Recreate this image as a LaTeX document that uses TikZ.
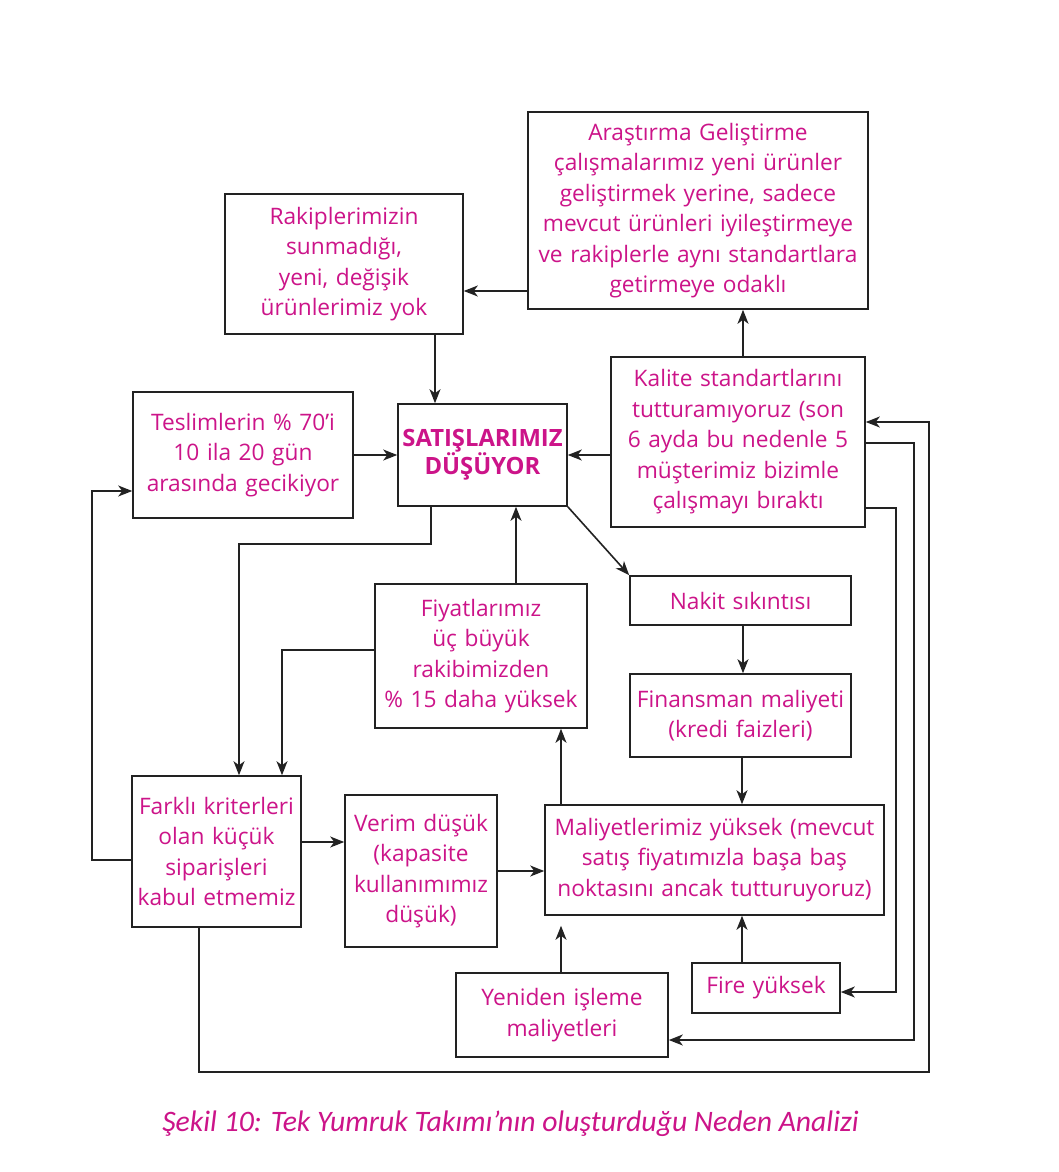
\documentclass[tikz,border=0pt]{standalone}
\usepackage{fontspec}
\setmainfont{Open Sans}
\newfontfamily\capfont{Carlito}
\usetikzlibrary{arrows.meta,calc}
\definecolor{pinktxt}{HTML}{CC1489}
\definecolor{linec}{HTML}{222222}
\begin{document}
\begin{tikzpicture}[x=1pt,y=-1pt,
  box/.style={draw=linec, line width=1.6pt, inner sep=0pt, align=center,
    text=pinktxt, font=\fontsize{22.7}{30.5}\selectfont},
  arr/.style={draw=linec, line width=1.6pt, -{Stealth[length=14pt,width=11pt,inset=4pt]}},
  ln/.style={draw=linec, line width=1.6pt}]
\useasboundingbox (0,0) rectangle (1059,1172);
\fill[white] (0,0) rectangle (1059,1172);

\node[box, minimum width=340pt, minimum height=197pt, text width=340pt] (ar) at (698,210.5)
  {Araştırma Geliştirme\\çalışmalarımız yeni ürünler\\geliştirmek yerine, sadece\\mevcut ürünleri iyileştirmeye\\ve rakiplerle aynı standartlara\\getirmeye odaklı};
\node[box, minimum width=238pt, minimum height=140pt, text width=238pt] (rk) at (344,264)
  {Rakiplerimizin\\sunmadığı,\\yeni, değişik\\ürünlerimiz yok};
\node[box, minimum width=220pt, minimum height=126pt, text width=220pt] (ts) at (243,455)
  {Teslimlerin \% 70’i\\10 ila 20 gün\\arasında gecikiyor};
\node[box, minimum width=169pt, minimum height=102pt, text width=169pt,
  font=\bfseries\fontsize{23.8}{28}\selectfont] (st) at (482.5,455)
  {SATIŞLARIMIZ\\DÜŞÜYOR};
\node[box, minimum width=254pt, minimum height=170pt, text width=254pt] (kl) at (738,442)
  {Kalite standartlarını\\tutturamıyoruz (son\\6 ayda bu nedenle 5\\müşterimiz bizimle\\çalışmayı bıraktı};
\node[box, minimum width=221pt, minimum height=49pt, text width=221pt] (nk) at (740.5,600.5)
  {Nakit sıkıntısı};
\node[box, minimum width=212pt, minimum height=144pt, text width=212pt] (fy) at (481,656)
  {Fiyatlarımız\\üç büyük\\rakibimizden\\\% 15 daha yüksek};
\node[box, minimum width=221pt, minimum height=83pt, text width=221pt] (fn) at (740.5,715.5)
  {Finansman maliyeti\\(kredi faizleri)};
\node[box, minimum width=169pt, minimum height=151pt, text width=169pt] (fk) at (216.5,851.5)
  {Farklı kriterleri\\olan küçük\\siparişleri\\kabul etmemiz};
\node[box, minimum width=152pt, minimum height=152pt, text width=152pt] (vr) at (421,871)
  {Verim düşük\\(kapasite\\kullanımımız\\düşük)};
\node[box, minimum width=339pt, minimum height=110pt, text width=339pt] (ml) at (714.5,860)
  {Maliyetlerimiz yüksek (mevcut\\satış fiyatımızla başa baş\\noktasını ancak tutturuyoruz)};
\node[box, minimum width=212pt, minimum height=84pt, text width=212pt] (yn) at (562,1015)
  {Yeniden işleme\\maliyetleri};
\node[box, minimum width=148pt, minimum height=50pt, text width=148pt] (fr) at (766,988)
  {Fire yüksek};

\node[text=pinktxt, inner sep=0pt, font=\capfont\itshape\fontsize{29.7}{33}\selectfont] (cap) at (510.5,1124)
  {Şekil 10: Tek Yumruk Takımı’nın oluşturduğu Neden Analizi};

% connectors
\draw[arr] (kl.north -| 743,0) -- (ar.south -| 743,0);
\draw[arr] (ar.west |- 0,291) -- (rk.east |- 0,291);
\draw[arr] (rk.south -| 435,0) -- (st.north -| 435,0);
\draw[arr] (ts.east) -- (st.west);
\draw[arr] (kl.west |- 0,455) -- (st.east);
\draw[arr] (st.south east) -- (nk.north west);
\draw[arr] (st.south -| 431,0) -- ++(0,37) -| (fk.north -| 239,0);
\draw[arr] (fy.north -| 516,0) -- (st.south -| 516,0);
\draw[arr] (fy.west |- 0,650) -| (fk.north -| 282,0);
\draw[arr] (nk.south -| 743,0) -- (fn.north -| 743,0);
\draw[arr] (fn.south -| 742,0) -- (ml.north -| 742,0);
\draw[arr] (ml.north -| 561,0) -- (fy.south -| 561,0);
\draw[arr] (fk.east |- 0,842) -- (vr.west |- 0,842);
\draw[arr] (vr.east |- 0,871) -- (ml.west |- 0,871);
\draw[arr, shorten >=10pt] (yn.north -| 561,0) -- (ml.south -| 561,0);
\draw[arr] (fr.north -| 742,0) -- (ml.south -| 742,0);
\draw[arr] (fk.west |- 0,860) -- ++(-39,0) |- (ts.west |- 0,491);
\draw[arr] (fk.south -| 199,0) -- ++(0,144) -- ++(730,0) |- (kl.east |- 0,422);
\draw[arr] (kl.east |- 0,443) -- ++(48,0) |- (yn.east |- 0,1040);
\draw[arr] (kl.east |- 0,508) -- ++(30,0) |- (fr.east |- 0,992);
\end{tikzpicture}
\end{document}
